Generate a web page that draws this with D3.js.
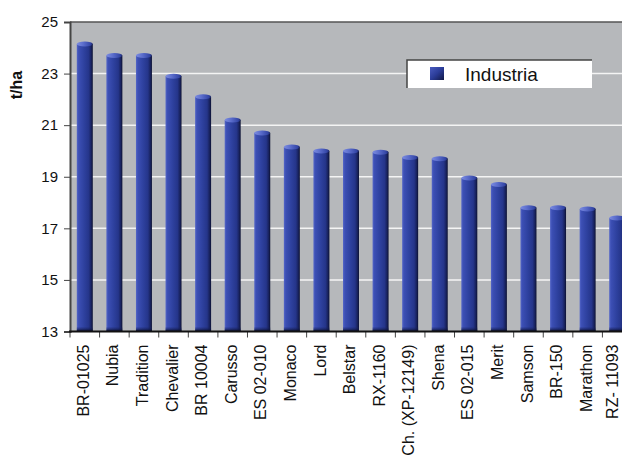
<!DOCTYPE html>
<html>
<head>
<meta charset="utf-8">
<script src="https://cdn.jsdelivr.net/npm/d3@7"></script>
<style>
  body { margin: 0; background: #fff; }
  text { font-family: "Liberation Sans", Arial, sans-serif; fill: #111; }
</style>
</head>
<body>
<div class="chart"></div>
<script>
// data
const categories = ["BR-01025", "Nubia", "Tradition", "Chevalier", "BR 10004", "Carusso",
    "ES 02-010", "Monaco", "Lord", "Belstar", "RX-1160", "Ch. (XP-12149)", "Shena",
    "ES 02-015", "Merit", "Samson", "BR-150", "Marathon", "RZ- 11093"];
const industria = [24.15, 23.7, 23.7, 22.9, 22.1, 21.2, 20.7, 20.15, 20.0, 20.0, 19.95,
    19.75, 19.7, 18.95, 18.7, 17.8, 17.8, 17.75, 17.4];
const yTicks = [13, 15, 17, 19, 21, 23, 25];
const gridTicks = [15, 17, 19, 21, 23];
const seriesName = "Industria";
const yLabel = "t/ha";

let W = 622, H = 460;
let plot = { left: 70, top: 22, right: 632, bottom: 331.5 };

let svg = d3.select(".chart").append("svg")
    .attr("width", W)
    .attr("height", H);

let defs = svg.append("defs");

let barGrad = defs.append("linearGradient").attr("id", "barGrad")
    .attr("x1", "0%").attr("x2", "100%").attr("y1", "0%").attr("y2", "0%");
[[0, "#5466c8"], [0.12, "#3c4fb4"], [0.45, "#2e419f"], [0.75, "#25358a"], [0.9, "#18225e"], [1, "#0c1131"]]
    .forEach(s => barGrad.append("stop").attr("offset", s[0]).attr("stop-color", s[1]));

let capGrad = defs.append("linearGradient").attr("id", "capGrad")
    .attr("x1", "0%").attr("x2", "100%").attr("y1", "0%").attr("y2", "0%");
[[0, "#7c8ce0"], [0.4, "#5b6dcc"], [0.85, "#3446a6"], [1, "#1c2766"]]
    .forEach(s => capGrad.append("stop").attr("offset", s[0]).attr("stop-color", s[1]));

let baseGrad = defs.append("linearGradient").attr("id", "baseGrad")
    .attr("x1", "0%").attr("x2", "0%").attr("y1", "0%").attr("y2", "100%");
[[0, "#1d2870", 0], [1, "#070a20", 1]]
    .forEach(s => baseGrad.append("stop").attr("offset", s[0]).attr("stop-color", s[1]).attr("stop-opacity", s[2]));

let legGrad = defs.append("linearGradient").attr("id", "legGrad")
    .attr("x1", "0%").attr("x2", "100%").attr("y1", "0%").attr("y2", "100%");
[[0, "#4a5cc0"], [0.5, "#2b3c98"], [1, "#111845"]]
    .forEach(s => legGrad.append("stop").attr("offset", s[0]).attr("stop-color", s[1]));

// scales
let x = d3.scaleBand().domain(categories).range([plot.left, plot.right])
    .paddingInner(0.46).paddingOuter(0.23);
let xo = d3.scaleBand().domain(categories).range([plot.left, plot.right]).padding(0);
let y = d3.scaleLinear().domain([13, 25]).range([plot.bottom, plot.top]);

// plot background
svg.append("rect")
    .attr("x", plot.left).attr("y", plot.top)
    .attr("width", plot.right - plot.left).attr("height", plot.bottom - plot.top)
    .attr("fill", "#b6b8bb");

// gridlines
svg.append("g").selectAll("line")
    .data(gridTicks)
    .enter().append("line")
    .attr("x1", plot.left).attr("x2", plot.right)
    .attr("y1", d => y(d)).attr("y2", d => y(d))
    .attr("stroke", "#f4f4f4").attr("stroke-width", 1.5);

// bars
let bars = svg.append("g").selectAll("g")
    .data(categories.map((c, i) => ({ cat: c, value: industria[i] })))
    .enter().append("g");

bars.append("rect")
    .attr("x", d => x(d.cat))
    .attr("y", d => y(d.value))
    .attr("width", x.bandwidth())
    .attr("height", d => y(13) - y(d.value))
    .attr("fill", "url(#barGrad)");

bars.append("rect")
    .attr("x", d => x(d.cat))
    .attr("y", y(13) - 5)
    .attr("width", x.bandwidth())
    .attr("height", 5)
    .attr("fill", "url(#baseGrad)");

bars.append("ellipse")
    .attr("cx", d => x(d.cat) + x.bandwidth() / 2)
    .attr("cy", d => y(d.value))
    .attr("rx", x.bandwidth() / 2)
    .attr("ry", 2.5)
    .attr("fill", "url(#capGrad)");

// frame: top and left
svg.append("line")
    .attr("x1", plot.left).attr("x2", plot.right)
    .attr("y1", plot.top).attr("y2", plot.top)
    .attr("stroke", "#555").attr("stroke-width", 1.5);

// y axis
let yAxis = d3.axisLeft(y).tickValues(yTicks).tickSize(6).tickPadding(6).tickFormat(d3.format("d"));
let gy = svg.append("g")
    .attr("transform", "translate(" + plot.left + ",0)")
    .call(yAxis);
gy.select(".domain").attr("stroke", "#444").attr("stroke-width", 2);
gy.selectAll(".tick line").attr("stroke", "#444");
gy.selectAll(".tick text").style("font-size", "15px").attr("fill", "#111")
    .style("font-family", "'Liberation Sans', Arial, sans-serif");

// x axis: labels centred, ticks at band edges
let xAxis = d3.axisBottom(xo).tickSize(0);
let gx = svg.append("g")
    .attr("transform", "translate(0," + plot.bottom + ")")
    .call(xAxis);
gx.select(".domain").remove();
gx.selectAll(".tick text")
    .style("font-size", "16px").attr("fill", "#111")
    .style("font-family", "'Liberation Sans', Arial, sans-serif")
    .attr("transform", "rotate(-90)")
    .attr("text-anchor", "end")
    .attr("x", -13)
    // last label sits right at the page edge, nudge it in a bit
    .attr("y", (d, i) => i === categories.length - 1 ? -5 : -1.5)
    .attr("dy", "0.35em");

svg.append("g").selectAll("line")
    .data(categories)
    .enter().append("line")
    .attr("x1", d => xo(d)).attr("x2", d => xo(d))
    .attr("y1", plot.bottom).attr("y2", plot.bottom + 6)
    .attr("stroke", "#444");

svg.append("line")
    .attr("x1", plot.left - 1).attr("x2", plot.right)
    .attr("y1", plot.bottom).attr("y2", plot.bottom)
    .attr("stroke", "#111").attr("stroke-width", 2);

// y label
svg.append("text")
    .attr("transform", "translate(22,85) rotate(-90)")
    .attr("text-anchor", "middle")
    .style("font-size", "16px").style("font-weight", "bold")
    .text(yLabel);

// legend
let leg = svg.append("g").attr("transform", "translate(407,60)");
leg.append("rect").attr("width", 185).attr("height", 28).attr("fill", "#fff");
leg.append("path").attr("d", "M0,28V0H185").attr("fill", "none")
    .attr("stroke", "#444").attr("stroke-width", 1.5);
leg.append("rect").attr("x", 23).attr("y", 7).attr("width", 14).attr("height", 13)
    .attr("fill", "url(#legGrad)");
leg.append("text").attr("x", 58).attr("y", 21)
    .style("font-size", "19px").text(seriesName);
</script>
</body>
</html>
